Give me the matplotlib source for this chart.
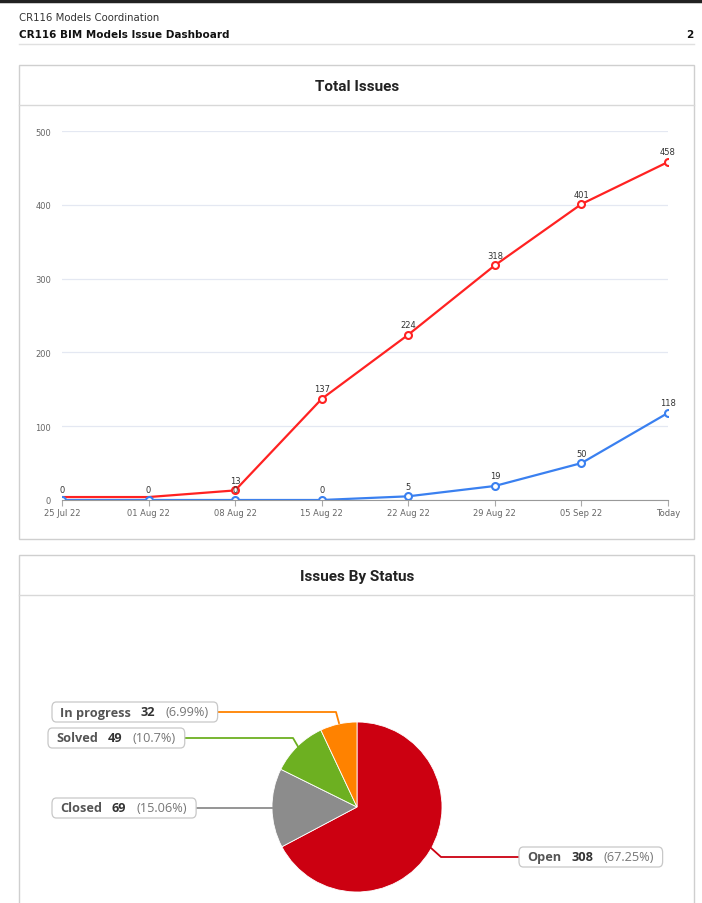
import matplotlib as mpl
mpl.use('agg')
import matplotlib.pyplot as plt
from matplotlib.patches import Rectangle, FancyBboxPatch
from matplotlib.lines import Line2D

W, H = 702, 904

# line chart data
weeks = ['25 Jul 22', '01 Aug 22', '08 Aug 22', '15 Aug 22', '22 Aug 22', '29 Aug 22', '05 Sep 22', 'Today']
total_issues = [4, 4, 13, 137, 224, 318, 401, 458]
total_labels = ['0', '0', '13', '137', '224', '318', '401', '458']
closed_issues = [0, 0, 0, 0, 5, 19, 50, 118]

# pie data
status_names = ['Open', 'Closed', 'Solved', 'In progress']
status_counts = [308, 69, 49, 32]
status_pct = ['67.25%', '15.06%', '10.7%', '6.99%']
status_colors = ['#cc0011', '#8c8c8c', '#6db021', '#ff8200']

RED = '#ff2222'
BLUE = '#3a80f0'


def fx(x):
    return x / W


def fy(y):
    return 1 - y / H


fig = plt.figure(figsize=(W / 100, H / 100), dpi=100)

# top border and header
fig.add_artist(Line2D([0, 1], [fy(2), fy(2)], color='#222222', lw=2.5))
fig.text(fx(19), fy(18), 'CR116 Models Coordination', fontsize=7.3, color='#333333', va='center',
         family='DejaVu Sans')
fig.text(fx(19), fy(35), 'CR116 BIM Models Issue Dashboard', fontsize=7.5, color='#111111', va='center',
         weight='bold', family='DejaVu Sans')
fig.text(fx(693), fy(35), '2', fontsize=7.5, color='#111111', va='center', ha='right', weight='bold')
fig.add_artist(Line2D([fx(19), fx(694)], [fy(45), fy(45)], color='#e0e0e0', lw=1))

# panels
for top, bottom, title, sep in [(66, 540, 'Total Issues', 106), (556, 910, 'Issues By Status', 596)]:
    fig.add_artist(Rectangle((fx(19), fy(bottom)), fx(694 - 19), (bottom - top) / H,
                             facecolor='none', edgecolor='#cfcfcf', lw=1))
    fig.add_artist(Line2D([fx(19), fx(694)], [fy(sep), fy(sep)], color='#d8d8d8', lw=1))
    fig.text(fx(357), fy((top + sep) / 2 + 1), title, fontsize=11, weight='bold', ha='center', va='center',
             family='Roboto', color='#222222')

# line chart
ax = fig.add_axes([fx(62), fy(501), fx(668 - 62), (501 - 132) / H])
x = list(range(len(weeks)))
ax.plot(x, total_issues, color=RED, lw=1.6, marker='o', ms=5, mfc='white', mec=RED, mew=1.5, zorder=3,
        markevery=list(range(2, len(weeks))))
ax.plot(x, closed_issues, color=BLUE, lw=1.6, marker='o', ms=5, mfc='white', mec=BLUE, mew=1.5, zorder=4)
for i, (v, lab) in enumerate(zip(total_issues, total_labels)):
    if i < 2:
        continue
    ax.annotate(lab, (i, v), xytext=(0, 4), textcoords='offset points', ha='center', va='bottom',
                fontsize=6, color='#333333')
for i, v in enumerate(closed_issues):
    ax.annotate(str(v), (i, v), xytext=(0, 4), textcoords='offset points', ha='center', va='bottom',
                fontsize=6, color='#333333')
ax.set_xlim(0, 7)
ax.set_ylim(0, 500)
ax.set_xticks(x)
ax.set_xticklabels(weeks)
ax.set_yticks([0, 100, 200, 300, 400, 500])
ax.tick_params(axis='x', labelsize=6, colors='#666666', length=4, width=0.8, pad=2)
ax.tick_params(axis='x', color='#aaaaaa')
ax.tick_params(axis='y', labelsize=6, colors='#666666', length=0, pad=8)
ax.grid(axis='y', color='#e4e8f2', lw=0.9)
ax.set_axisbelow(True)
for s in ['top', 'right', 'left']:
    ax.spines[s].set_visible(False)
ax.spines['bottom'].set_color('#999999')
ax.spines['bottom'].set_zorder(5)

# pie chart
r = 85
pax = fig.add_axes([fx(357 - r), fy(808 + r), 2 * r / W, 2 * r / H])
pax.pie(status_counts, colors=status_colors, startangle=90, counterclock=False,
        wedgeprops=dict(edgecolor='white', linewidth=0.6))
pax.set_xlim(-1, 1)
pax.set_ylim(-1, 1)
pax.set_aspect('equal')

# labels: box left x, center y, connector points beyond the box
label_pos = {
    'In progress': (52, 713, [(336, 713), (339, 724)], 'right'),
    'Solved': (48, 739, [(293, 739), (300, 751)], 'right'),
    'Closed': (52, 809, [(272, 809)], 'right'),
    'Open': (519, 858, [(441, 858), (431, 849)], 'left'),
}

fig.canvas.draw()
renderer = fig.canvas.get_renderer()
for name, cnt, pct, col in zip(status_names, status_counts, status_pct, status_colors):
    bx, by, path, side = label_pos[name]
    cur = bx + 8
    pieces = [(name, 'bold', '#555555'), (str(cnt), 'bold', '#333333'), ('(' + pct + ')', 'normal', '#777777')]
    for txt, wt, c in pieces:
        t = fig.text(fx(cur), fy(by), txt, fontsize=9.2, weight=wt, color=c, va='center', ha='left',
                     family='Open Sans', zorder=6)
        bb = t.get_window_extent(renderer)
        cur += bb.width + 10
    right = cur - 10 + 9
    fig.add_artist(FancyBboxPatch((fx(bx), fy(by + 10)), fx(right - bx), 20 / H,
                                  boxstyle='round,pad=0,rounding_size=0.006', facecolor='white',
                                  edgecolor='#c8c8c8', lw=0.9, zorder=5))
    start = (right, by) if side == 'right' else (bx, by)
    pts = [start] + path
    fig.add_artist(Line2D([fx(p[0]) for p in pts], [fy(p[1]) for p in pts], color=col, lw=1.3))

fig.savefig('out.png', dpi=100)
